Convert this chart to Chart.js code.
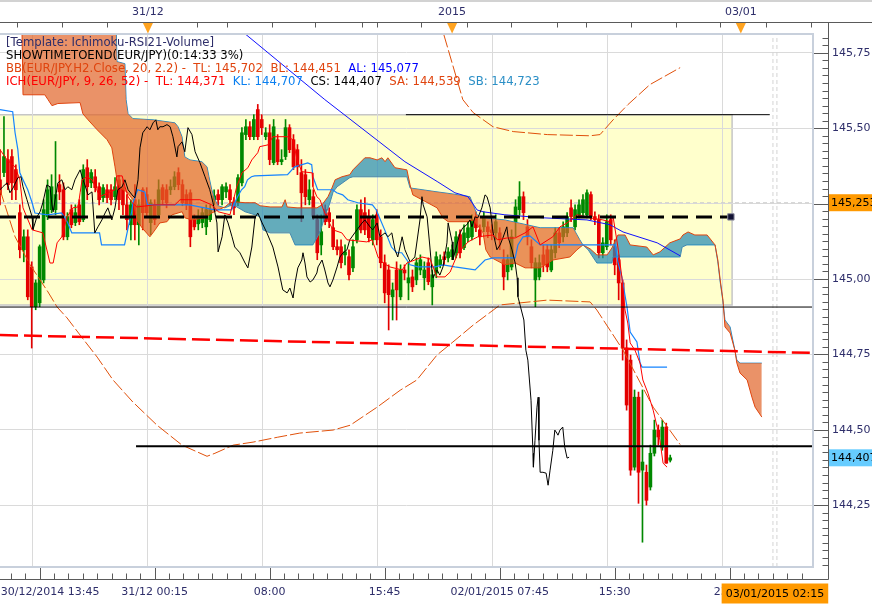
<!DOCTYPE html>
<html><head><meta charset="utf-8">
<script src="https://cdn.jsdelivr.net/npm/chart.js@4.4.1/dist/chart.umd.min.js"></script>
<style>html,body{margin:0;padding:0;background:#fff}canvas{display:block}</style>
</head><body>
<canvas id="c" width="872" height="604"></canvas>
<script>
// ---------- DATA ----------
const FIRST_BAR = -10;
const opens = [
145.329,145.353,145.396,145.406,145.363,145.220,145.097,145.140,145.040,144.908,
144.921,144.997,145.207,145.230,145.230,145.313,145.296,145.140,145.230,145.187,
145.246,145.197,145.369,145.319,145.339,145.306,145.270,145.296,145.296,145.273,
145.329,145.306,145.246,145.180,145.263,145.180,145.296,145.280,145.187,145.246,
145.213,145.303,145.296,145.296,145.306,145.353,145.313,145.280,145.286,145.197,
145.183,145.187,145.173,145.197,145.263,145.280,145.263,145.289,145.296,145.253,
145.253,145.319,145.479,145.505,145.472,145.562,145.529,145.472,145.485,145.386,
145.462,145.389,145.406,145.502,145.462,145.429,145.353,145.346,145.263,145.273,
145.197,145.113,145.230,145.220,145.170,145.107,145.107,145.080,145.074,145.037,
145.130,145.230,145.220,145.207,145.130,145.213,145.140,145.054,145.030,144.941,
145.030,144.941,145.030,144.987,145.007,144.997,145.030,145.004,145.054,144.974,
145.020,145.047,145.074,145.070,145.074,145.087,145.147,145.104,145.137,145.140,
145.207,145.163,145.173,145.173,145.163,145.153,145.153,145.064,145.024,145.040,
145.190,145.230,145.273,145.173,145.107,144.997,145.007,145.080,145.097,145.030,
145.087,145.153,145.140,145.153,145.236,145.173,145.213,145.220,145.213,145.280,
145.207,145.197,145.087,145.107,145.197,145.107,145.064,144.987,144.771,144.731,
144.376,144.608,144.366,144.359,144.310,144.422,144.499,144.442,144.509,144.399];
const highs = [
145.429,145.539,145.429,145.429,145.379,145.246,145.163,145.163,145.057,144.997,
145.113,145.263,145.329,145.346,145.456,145.346,145.319,145.220,145.246,145.246,
145.263,145.379,145.396,145.363,145.363,145.319,145.313,145.313,145.313,145.336,
145.343,145.329,145.280,145.263,145.313,145.263,145.303,145.303,145.263,145.263,
145.329,145.313,145.313,145.329,145.356,145.369,145.329,145.296,145.296,145.213,
145.230,145.236,145.246,145.246,145.296,145.296,145.313,145.319,145.313,145.270,
145.346,145.502,145.529,145.522,145.545,145.579,145.545,145.502,145.512,145.529,
145.479,145.429,145.529,145.512,145.479,145.446,145.396,145.363,145.329,145.296,
145.213,145.213,145.246,145.236,145.197,145.130,145.130,145.113,145.097,145.130,
145.246,145.263,145.270,145.230,145.213,145.230,145.163,145.080,145.047,144.987,
145.057,145.047,145.047,145.057,145.030,145.070,145.080,145.057,145.070,145.030,
145.090,145.080,145.090,145.104,145.113,145.157,145.163,145.180,145.190,145.213,
145.223,145.180,145.223,145.190,145.180,145.213,145.170,145.097,145.080,145.163,
145.263,145.323,145.289,145.197,145.130,145.070,145.080,145.113,145.113,145.113,
145.170,145.170,145.190,145.220,145.263,145.246,145.263,145.280,145.296,145.289,
145.223,145.213,145.137,145.213,145.213,145.130,145.080,144.997,144.798,144.748,
144.632,144.625,144.632,144.383,144.449,144.532,144.516,144.532,144.522,144.416];
const lows = [
145.246,145.339,145.296,145.263,145.263,145.070,145.057,144.931,144.771,144.898,
144.908,144.987,145.197,145.220,145.213,145.263,145.130,145.130,145.170,145.177,
145.180,145.190,145.263,145.303,145.289,145.246,145.256,145.253,145.246,145.263,
145.230,145.213,145.163,145.130,145.130,145.113,145.163,145.203,145.147,145.180,
145.203,145.246,145.236,145.280,145.296,145.296,145.243,145.230,145.107,145.163,
145.163,145.170,145.147,145.190,145.246,145.246,145.246,145.270,145.246,145.213,
145.243,145.309,145.462,145.462,145.462,145.462,145.479,145.462,145.379,145.379,
145.379,145.379,145.396,145.419,145.363,145.346,145.190,145.246,145.246,145.197,
145.064,145.080,145.180,145.170,145.097,145.080,145.037,145.047,144.997,145.024,
145.120,145.153,145.147,145.123,145.113,145.113,145.037,144.921,144.831,144.864,
144.864,144.931,144.997,144.931,144.958,144.981,145.014,144.964,144.981,144.914,
145.004,145.037,145.047,145.057,145.064,145.070,145.070,145.097,145.123,145.130,
145.157,145.113,145.157,145.137,145.130,145.130,145.097,144.964,144.997,145.030,
145.140,145.213,145.197,145.113,145.037,144.908,144.997,145.024,145.024,145.024,
145.070,145.104,145.123,145.140,145.190,145.163,145.203,145.210,145.203,145.197,
145.180,145.070,145.070,145.097,145.113,145.014,144.931,144.731,144.565,144.349,
144.366,144.256,144.127,144.250,144.300,144.413,144.449,144.432,144.389,144.393];
const closes = [
145.280,145.406,145.313,145.319,145.296,145.097,145.140,144.941,144.908,144.987,
145.107,145.230,145.296,145.306,145.280,145.289,145.140,145.207,145.180,145.220,
145.190,145.363,145.306,145.353,145.303,145.263,145.303,145.270,145.263,145.306,
145.263,145.246,145.197,145.246,145.180,145.246,145.220,145.220,145.253,145.197,
145.296,145.263,145.253,145.306,145.339,145.313,145.253,145.246,145.140,145.173,
145.203,145.220,145.230,145.230,145.276,145.263,145.306,145.306,145.263,145.236,
145.336,145.485,145.505,145.472,145.529,145.472,145.502,145.485,145.396,145.505,
145.389,145.396,145.502,145.429,145.372,145.372,145.286,145.273,145.296,145.207,
145.087,145.157,145.190,145.190,145.107,145.097,145.054,145.090,145.014,145.107,
145.230,145.163,145.163,145.137,145.197,145.130,145.054,144.954,144.948,144.964,
144.964,145.030,145.020,145.004,144.974,145.054,145.064,145.030,144.991,145.014,
145.074,145.064,145.064,145.090,145.097,145.140,145.087,145.153,145.170,145.190,
145.170,145.140,145.207,145.157,145.153,145.190,145.130,145.007,145.064,145.140,
145.239,145.273,145.220,145.140,145.054,145.054,145.054,145.047,145.040,145.097,
145.153,145.120,145.173,145.207,145.207,145.230,145.246,145.263,145.286,145.207,
145.197,145.087,145.120,145.190,145.130,145.047,144.987,144.771,144.582,144.366,
144.608,144.359,144.393,144.266,144.422,144.499,144.476,144.509,144.389,144.407];

// Ichimoku lines: [bar, price]
const tenkan = [[-10,145.429],[-8.2,145.395],[-6.2,145.372],[-5,145.329],[-4.2,145.236],[-1.9,145.163],[0.8,145.153],[2.6,145.053],[3.4,145.053],[4.4,145.120],[5.6,145.140],[6.9,145.206],[8.4,145.236],[9.7,145.239],[10.2,145.286],[10.7,145.329],[11.9,145.339],[13.2,145.329],[14.4,145.296],[15.2,145.273],[17.7,145.289],[19,145.296],[19.5,145.342],[20.8,145.342],[21.5,145.306],[22.3,145.273],[23.3,145.253],[24.5,145.239],[29.1,145.246],[34.1,145.246],[35.4,145.263],[40.4,145.263],[43.4,145.246],[45,145.223],[48,145.213],[48.7,145.253],[49.7,145.306],[51,145.352],[52.5,145.369],[53.5,145.395],[55,145.419],[55.5,145.439],[57.6,145.445],[58.8,145.472],[62.4,145.472],[63.9,145.462],[64.9,145.395],[66.1,145.356],[68.7,145.352],[68.9,145.306],[69.9,145.273],[70.7,145.263],[71.4,145.236],[72.4,145.203],[73.95,145.163],[76.2,145.153],[77.5,145.130],[82.5,145.123],[83.8,145.130],[84.5,145.106],[85.3,145.073],[86.6,145.053],[88.3,145.040],[91.4,145.030],[92.6,145.053],[94.6,145.063],[96.4,145.073],[98.4,145.067],[100.2,145.007],[102.2,145.007],[103.5,145.023],[105.5,145.087],[106.7,145.103],[108,145.123],[110.5,145.140],[114.3,145.146],[115.5,145.130],[117.8,145.136],[119.9,145.136],[122.4,145.153],[124.4,145.173],[126.2,145.113],[129.4,145.140],[131.2,145.173],[133,145.186],[135.5,145.213],[138.8,145.203],[142,145.196],[143.8,145.190],[144.6,145.206],[145.8,145.106],[146.8,145.007],[147.6,144.897],[148.3,144.854],[148.9,144.788],[150.1,144.764],[151.4,144.721],[152.1,144.665],[153.4,144.621],[154.7,144.565],[155.7,144.509],[156.4,144.465],[157.2,144.389],[158.2,144.376]];
const kijun = [[-10,145.562],[-6.8,145.555],[-6.2,145.485],[-5.5,145.429],[-5,145.352],[-4.2,145.329],[-3,145.296],[-1.9,145.253],[-1.2,145.219],[2,145.213],[5.5,145.219],[6.4,145.203],[7.1,145.186],[8.1,145.153],[15.1,145.153],[15.6,145.113],[21.4,145.113],[22.2,145.163],[23.2,145.223],[23.5,145.253],[24.7,145.296],[26.5,145.289],[27.2,145.246],[37.8,145.246],[44.1,145.229],[48.4,145.229],[49.2,145.253],[49.9,145.273],[50.9,145.296],[51.7,145.306],[52.4,145.329],[53.4,145.339],[54.2,145.342],[62.5,145.346],[64.3,145.372],[67.6,145.385],[68.6,145.379],[68.9,145.339],[70.1,145.296],[73.9,145.296],[74.9,145.286],[76.4,145.279],[77.7,145.263],[80.2,145.253],[83.9,145.246],[84.9,145.229],[85.7,145.203],[87,145.163],[88.7,145.106],[90,145.087],[91.3,145.087],[92.6,145.063],[93.4,145.047],[95.4,145.040],[99.7,145.040],[101.7,145.047],[104.7,145.040],[109.8,145.030],[112.3,145.063],[114.3,145.070],[119.9,145.070],[120.6,145.113],[121.9,145.140],[123.6,145.143],[126.2,145.113],[145.1,145.113],[145.8,145.057],[146.8,145.007],[148.1,144.907],[148.9,144.824],[150.6,144.791],[151.4,144.721],[151.9,144.708],[158.2,144.708]];
const chikou = [[-10,145.296],[-9.3,145.306],[-8.2,145.319],[-7.5,145.286],[-6.7,145.302],[-5.5,145.336],[-4.7,145.339],[-4.2,145.306],[-3.2,145.263],[-1.9,145.206],[-1.7,145.163],[-0.7,145.206],[0.1,145.223],[0.8,145.253],[1.8,145.312],[2.6,145.306],[3.1,145.246],[3.4,145.223],[3.9,145.263],[4.6,145.319],[5.6,145.329],[6.4,145.296],[7.1,145.306],[8.1,145.296],[8.9,145.329],[10.2,145.362],[10.9,145.329],[11.4,145.312],[12.2,145.279],[13.2,145.289],[13.9,145.153],[14.7,145.173],[15.7,145.196],[16.5,145.219],[17.2,145.236],[18.2,145.196],[19,145.236],[19.7,145.296],[20.8,145.306],[21.5,145.329],[22.3,145.296],[23.3,145.279],[24,145.269],[24.8,145.329],[25.3,145.435],[26,145.485],[27.1,145.505],[27.8,145.495],[28.6,145.518],[29.3,145.528],[29.8,145.495],[30.3,145.505],[31.1,145.505],[32.1,145.512],[32.9,145.505],[33.6,145.472],[34.6,145.405],[34.9,145.439],[35.9,145.455],[36.6,145.422],[37.4,145.502],[38.4,145.479],[39.2,145.422],[40.4,145.386],[41.7,145.339],[42.9,145.296],[43.7,145.253],[44.7,145.186],[45,145.090],[46,145.140],[46.7,145.213],[47.5,145.186],[48.5,145.140],[49.2,145.106],[50.5,145.087],[51.8,145.053],[52.5,145.037],[53.5,145.106],[54.3,145.203],[55,145.219],[56.1,145.186],[57.3,145.153],[58.8,145.106],[60.1,145.040],[61.3,144.964],[62.4,144.954],[63.1,144.970],[63.9,144.937],[64.4,144.987],[65.1,145.037],[66.1,145.063],[66.4,145.087],[66.9,145.053],[67.4,145.007],[68.2,144.990],[68.9,144.997],[69.9,145.020],[70.2,145.040],[71.2,145.063],[71.9,145.030],[72.7,144.987],[73.2,144.974],[73.95,144.997],[75,145.040],[75.7,145.073],[76.5,145.087],[77.5,145.097],[78.2,145.130],[80,145.163],[81.3,145.186],[82,145.196],[83.3,145.173],[84,145.163],[85.1,145.186],[85.8,145.140],[87.1,145.153],[87.8,145.140],[88.8,145.153],[89.6,145.097],[90.3,145.073],[91.4,145.140],[92.1,145.097],[93.4,145.057],[94.6,145.073],[95.9,145.196],[96.4,145.273],[96.7,145.246],[97.7,145.206],[98.4,145.106],[98.9,145.030],[99.2,145.004],[100.2,145.030],[100.9,145.013],[101.7,145.040],[102.7,145.120],[103,145.186],[104,145.123],[104.2,145.063],[105.2,145.113],[106,145.153],[106.7,145.170],[107.7,145.180],[108.5,145.196],[109,145.173],[109.8,145.206],[110.5,145.203],[111.5,145.236],[112.3,145.279],[112.8,145.273],[113.6,145.236],[114.3,145.156],[115.3,145.097],[116.1,145.113],[116.8,145.136],[117.8,145.173],[118.1,145.140],[119.1,145.097],[119.9,145.053],[120.4,145.004],[120.6,144.941],[122.1,144.864],[122.6,144.764],[123.1,144.731],[123.9,144.598],[124.4,144.422],[124.5,144.376],[124.9,144.465],[125.4,144.575],[125.7,144.608],[125.9,144.465],[126.2,144.359],[126.9,144.359],[127.7,144.356],[128.2,144.316],[128.7,144.366],[129.4,144.432],[129.9,144.499],[130.4,144.489],[130.7,144.482],[131.2,144.499],[131.9,144.509],[132.4,144.442],[133,144.406],[133.5,144.409]];
const senkouA = [[-10,145.86],[-4.5,145.86],[-4.2,145.611],[1.3,145.611],[2.1,145.595],[3.1,145.575],[4.6,145.582],[10.2,145.585],[10.9,145.548],[12.2,145.528],[14.5,145.495],[17,145.462],[18.2,145.435],[19,145.372],[19.5,145.329],[20.3,145.302],[22,145.289],[23.5,145.263],[24.5,145.196],[25.8,145.170],[27.8,145.140],[29.1,145.163],[30.3,145.186],[32.1,145.190],[33.4,145.213],[35.9,145.223],[36.6,145.203],[38.4,145.196],[41.7,145.203],[43.4,145.219],[45,145.229],[46.7,145.239],[48,145.253],[49.2,145.256],[51.8,145.253],[54.3,145.253],[55.6,145.243],[58.1,145.239],[61.1,145.239],[61.9,145.263],[62.4,145.239],[64.9,145.236],[69.9,145.236],[71.2,145.246],[72.7,145.273],[73.7,145.302],[74.5,145.329],[76.2,145.339],[78.2,145.346],[79,145.362],[82,145.402],[83.3,145.402],[85.1,145.395],[86.3,145.402],[87.1,145.389],[87.8,145.402],[89.6,145.369],[92.6,145.362],[93.4,145.312],[94.1,145.279],[96.4,145.263],[100.2,145.236],[101.7,145.203],[103,145.190],[108,145.190],[109.3,145.196],[110.3,145.180],[111.8,145.153],[112.5,145.097],[113.6,145.073],[117.3,145.047],[119.9,145.053],[122.4,145.037],[126.2,145.037],[129.4,145.063],[133.7,145.073],[135.5,145.097],[137,145.113],[138.8,145.100],[140.5,145.080],[143.1,145.080],[144.3,145.103],[145.8,145.146],[147.6,145.146],[148.9,145.113],[153.1,145.106],[154.7,145.080],[156.4,145.090],[158.9,145.120],[161.5,145.133],[162.2,145.146],[163.5,145.156],[165.2,145.146],[168.3,145.146],[170.3,145.113],[171,145.063],[171.6,144.997],[172.3,144.930],[172.8,144.841],[174.1,144.821],[175.3,144.764],[175.8,144.721],[176.6,144.688],[178.4,144.665],[179.6,144.608],[180.4,144.575],[182.1,144.542]];
const senkouB = [[-10,145.90],[19.2,145.90],[19.5,145.721],[21.5,145.714],[21.8,145.595],[22.3,145.548],[23.5,145.532],[28.6,145.528],[34.1,145.518],[34.9,145.505],[35.9,145.472],[36.6,145.405],[37.9,145.395],[40.9,145.389],[42.2,145.372],[42.7,145.339],[43.4,145.296],[44.2,145.263],[45,145.243],[46.7,145.236],[48,145.243],[49.2,145.243],[51.8,145.223],[54.3,145.213],[55.6,145.206],[56.3,145.163],[58.1,145.153],[63.1,145.153],[64.4,145.113],[68.9,145.113],[70.7,145.156],[71.9,145.206],[73.2,145.253],[74,145.289],[75,145.306],[78.2,145.336],[79,145.339],[92.6,145.339],[93.4,145.302],[100.2,145.289],[104.2,145.282],[108.5,145.273],[109.3,145.246],[110.3,145.213],[111.8,145.203],[117.3,145.196],[126.2,145.170],[134.5,145.170],[136.2,145.130],[137,145.113],[138.3,145.097],[140.5,145.053],[144.3,145.053],[144.6,145.073],[161.5,145.073],[162,145.106],[163.2,145.113],[170.3,145.113],[171,145.057],[171.6,144.990],[172.3,144.924],[172.8,144.864],[174.1,144.841],[175.3,144.764],[175.8,144.731],[176.6,144.721],[182.1,144.721]];
// Bollinger (H2) lines
const bbUpper = [[100.9,145.861],[101.9,145.811],[106.7,145.595],[109.3,145.552],[114.3,145.505],[119.4,145.489],[128,145.479],[138.8,145.475],[141.3,145.479],[144.6,145.528],[148.3,145.578],[153.9,145.645],[161.5,145.701]];
const bbMiddle = [[48,145.861],[52,145.811],[71.9,145.595],[92.1,145.389],[100.4,145.322],[104.7,145.286],[108,145.273],[110.3,145.229],[111.8,145.223],[117.3,145.213],[126.9,145.203],[138,145.196],[143.8,145.180],[147.1,145.156],[155.7,145.120],[161.5,145.077]];
const bbLower = [[-10,145.296],[-6.2,145.140],[-2.4,145.047],[2.1,144.957],[4.4,144.907],[6.9,144.871],[10.2,144.814],[14.5,144.741],[18.5,144.665],[23.5,144.592],[29.6,144.515],[35.9,144.449],[42.2,144.412],[44.2,144.422],[48.8,144.449],[53.8,144.459],[59.9,144.475],[65.6,144.489],[74,144.499],[78.3,144.515],[85.1,144.575],[90.9,144.631],[95.1,144.665],[100.2,144.748],[104.2,144.791],[109.3,144.847],[116.1,144.914],[128,144.930],[138.8,144.924],[140.5,144.897],[147.1,144.764],[154.7,144.575],[161.5,144.451]];
// drawing objects
const boxTop = 145.545, boxBottom = 144.914, boxEnd = 174.6;
const resistanceLine = [[92.35,145.545],[184.1,145.545]];
const supportLine = [[-10,144.907],[195,144.907]];
const lowLine = [[24.3,144.445],[195,144.445]];
const pivotLine = [[-10,145.206],[174.3,145.206]];
const redTrend = [[-10,144.814],[195,144.755]];
const nowBars = [184.9, 185.9];
const lastPrice = 145.253, csPrice = 144.407, lastTimeLabel = '03/01/2015 02:15';
// axes
const xMin = -10, xMax = 195, yMin = 144.0448, yMax = 145.8126;
const minorStep = 29 / 8;
const bottomTickBars = [0, 29, 58, 87, 116, 145, 174];
const bottomTickLabels = ['      30/12/2014 13:45', '31/12 00:15', '08:00', '15:45', '02/01/2015 07:45', '15:30', '23:00'];
const topMarkerBars = [27.3, 104.0, 176.8];
const topMarkerLabels = ['31/12', '2015', '03/01'];
const topTickBars = [-5.7, 5.6, 17.0, 27.3, 39.7, 47.2, 58.6, 69.4, 81.3, 85.1, 96.1, 104.0, 107.7, 118.8, 130.4, 137.7, 149.1, 160.4, 171.5, 176.8, 183.1, 194.5];
const legendLines = [
  [['[Template: Ichimoku-RSI21-Volume]', '#2e2e6a']],
  [['SHOWTIMETOEND(EUR/JPY)(0:14:33 3%)', '#000000']],
  [['BB(EUR/JPY.H2.Close, 20, 2.2) -  TL: 145,702  BL: 144,451  ', '#e0440e'], ['AL: 145,077', '#0000ff']],
  [['ICH(EUR/JPY, 9, 26, 52) -  TL: 144,371  ', '#ff0000'], ['KL: 144,707  ', '#0a7ff0'], ['CS: 144,407  ', '#000000'], ['SA: 144,539  ', '#e0440e'], ['SB: 144,723', '#2b8fc6']]
];

// ---------- STYLE ----------
const GREEN = '#008800', RED = '#e40000';
const FONT = "'DejaVu Sans', Verdana, sans-serif";
const AXIS_TXT = '#2e2e6a';
Chart.defaults.font.family = FONT;

const candleColor = c => closes[c.dataIndex] >= opens[c.dataIndex] ? GREEN : RED;
const wickData = opens.map((o, k) => ({x: FIRST_BAR + k, y: [lows[k], highs[k]]}));
const bodyData = opens.map((o, k) => ({x: FIRST_BAR + k, y: [o, closes[k]]}));
const isMajorX = v => bottomTickBars.some(b => Math.abs(b - v) < 1e-6);
const isMajorY = v => Math.round(v * 40) % 10 === 0;

function line(data, color, width, extra) {
  return Object.assign({type: 'line', data, borderColor: color, borderWidth: width, pointRadius: 0,
    tension: 0, fill: false, xAxisID: 'x', yAxisID: 'y'}, extra || {});
}
const datasets = [];
datasets.push({type: 'bar', data: wickData, backgroundColor: candleColor, barThickness: 1, grouped: false, order: 31, xAxisID: 'x', yAxisID: 'y'});
datasets.push({type: 'bar', data: bodyData, backgroundColor: candleColor, barThickness: 3, grouped: false, minBarLength: 1, order: 30, xAxisID: 'x', yAxisID: 'y'});
datasets.push(line([[xMin, lastPrice], [xMax, lastPrice]], '#cdcdcd', 1, {borderDash: [4, 3], order: 40}));
datasets.push(line([[nowBars[0], yMin], [nowBars[0], yMax]], '#d4d4d4', 1, {borderDash: [4, 3], order: 40}));
datasets.push(line([[nowBars[1], yMin], [nowBars[1], yMax]], '#d4d4d4', 1, {borderDash: [4, 3], order: 40}));
const sbIndex = datasets.length;
datasets.push(line(senkouB, '#2a8fcc', 1, {order: 12}));
datasets.push(line(senkouA, '#e0440e', 1, {order: 11, fill: {target: sbIndex, above: 'rgba(40,140,180,0.72)', below: 'rgba(225,100,40,0.70)'}}));
datasets.push(line(bbUpper, '#e0500a', 1, {borderDash: [13, 3], order: 8}));
datasets.push(line(bbLower, '#e0500a', 1, {borderDash: [13, 3], order: 8}));
datasets.push(line(bbMiddle, '#1010ff', 1, {order: 8}));
datasets.push(line(chikou, '#000000', 1, {order: 6}));
datasets.push(line(kijun, '#1584ff', 1.2, {order: 6}));
datasets.push(line(tenkan, '#ff0000', 1, {order: 5}));
datasets.push(line(supportLine, '#000000', 1, {order: 3}));
datasets.push(line(lowLine, '#000000', 2, {order: 3}));
datasets.push(line(resistanceLine, '#000000', 1, {order: 3}));
datasets.push(line(redTrend, '#ff0000', 2.5, {borderDash: [18, 6], order: 2}));
datasets.push(line(pivotLine, '#000000', 3, {borderDash: [16, 8], order: 1}));
datasets.push({type: 'scatter', data: [pivotLine[1]], pointStyle: 'rect', pointRadius: 4.5, backgroundColor: '#111133', borderColor: '#9090a0', borderWidth: 1, order: 0, xAxisID: 'x', yAxisID: 'y'});

// ---------- PLUGINS ----------
const backdrop = {
  id: 'backdrop',
  beforeDraw(chart) {
    const {ctx, scales: {x, y}} = chart;
    const l = x.getPixelForValue(xMin), r = x.getPixelForValue(boxEnd);
    const t = y.getPixelForValue(boxTop), b = y.getPixelForValue(boxBottom);
    ctx.save();
    ctx.fillStyle = '#ffffcc';
    ctx.fillRect(l, t, r - l, b - t);
    ctx.strokeStyle = '#c6c6c6'; ctx.lineWidth = 1.5;
    ctx.beginPath(); ctx.moveTo(l, t); ctx.lineTo(r, t); ctx.lineTo(r, b); ctx.lineTo(l, b); ctx.stroke();
    ctx.restore();
  }
};
const decor = {
  id: 'decor',
  afterDraw(chart) {
    const {ctx, chartArea: a, scales: {x, y, xTop}} = chart;
    const W = chart.width;
    ctx.save();
    ctx.fillStyle = '#d2d2d2'; ctx.fillRect(0, 0, W, 2);
    ctx.strokeStyle = '#c8d0dc'; ctx.lineWidth = 2;
    ctx.beginPath(); ctx.moveTo(0, a.top); ctx.lineTo(a.right, a.top); ctx.lineTo(a.right, a.bottom); ctx.lineTo(0, a.bottom); ctx.stroke();
    const axR = a.right + 15.5, axB = a.bottom + 12.5, axT = 22.5;
    ctx.strokeStyle = '#5a5a5a'; ctx.lineWidth = 1;
    ctx.beginPath();
    ctx.moveTo(0, axT); ctx.lineTo(W, axT);
    ctx.moveTo(axR, axT); ctx.lineTo(axR, axB);
    ctx.moveTo(0, axB); ctx.lineTo(axR, axB);
    y.ticks.forEach(t => {
      const py = Math.round(y.getPixelForValue(t.value)) + 0.5;
      ctx.moveTo(isMajorY(t.value) ? a.right + 1 : axR - 6, py); ctx.lineTo(axR, py);
    });
    x.ticks.forEach(t => {
      const px = Math.round(x.getPixelForValue(t.value)) + 0.5;
      ctx.moveTo(px, isMajorX(t.value) ? a.bottom + 1 : axB - 6); ctx.lineTo(px, axB);
    });
    topTickBars.forEach(v => {
      const px = Math.round(xTop.getPixelForValue(v)) + 0.5;
      ctx.moveTo(px, axT); ctx.lineTo(px, axT + 5);
    });
    ctx.stroke();
    ctx.fillStyle = '#ffa320';
    topMarkerBars.forEach(v => {
      const px = xTop.getPixelForValue(v);
      ctx.beginPath(); ctx.moveTo(px - 5, axT + 0.5); ctx.lineTo(px + 5, axT + 0.5); ctx.lineTo(px, axT + 11); ctx.closePath(); ctx.fill();
    });
    ctx.font = '11px ' + FONT; ctx.textBaseline = 'middle'; ctx.textAlign = 'left';
    const box = (val, color) => {
      const py = y.getPixelForValue(val);
      ctx.fillStyle = color; ctx.fillRect(axR + 0.5, py - 8.5, W - axR, 17);
      ctx.fillStyle = '#000'; ctx.fillText(val.toFixed(3).replace('.', ','), axR + 2.5, py + 0.5);
    };
    box(lastPrice, '#ff9900');
    box(csPrice, '#66ccff');
    const cx = x.getPixelForValue((nowBars[0] + nowBars[1]) / 2);
    const tw = ctx.measureText(lastTimeLabel).width;
    ctx.fillStyle = '#ff9900'; ctx.fillRect(cx - tw / 2 - 4, axB + 4, tw + 8, 20);
    ctx.fillStyle = '#000'; ctx.fillText(lastTimeLabel, cx - tw / 2, axB + 14.5);
    ctx.font = '11.7px ' + FONT;
    const rows = [43, 56, 69, 81.5];
    legendLines.forEach((segs, r) => {
      let px = 6;
      segs.forEach(([txt, col]) => { ctx.fillStyle = col; ctx.fillText(txt, px, rows[r]); px += ctx.measureText(txt).width; });
    });
    ctx.restore();
  }
};

new Chart(document.getElementById('c'), {
  type: 'line',
  data: {datasets},
  options: {
    responsive: false, animation: false, devicePixelRatio: 1,
    layout: {padding: 0, autoPadding: false},
    plugins: {legend: {display: false}, tooltip: {enabled: false}},
    scales: {
      x: {
        type: 'linear', position: 'bottom', min: xMin, max: xMax, offset: false,
        afterBuildTicks(s) { const t = []; for (let k = Math.ceil(xMin / minorStep); k * minorStep <= xMax; k++) t.push({value: k * minorStep}); s.ticks = t; },
        ticks: {autoSkip: false, maxRotation: 0, padding: 19, color: AXIS_TXT, font: {size: 11},
          callback(v) { const i = bottomTickBars.findIndex(b => Math.abs(b - v) < 1e-6); return i >= 0 ? bottomTickLabels[i] : ''; }},
        grid: {drawTicks: false, color: c => (c.tick && isMajorX(c.tick.value)) ? '#dadada' : 'rgba(0,0,0,0)'},
        border: {display: false},
        afterFit(s) { s.height = 37; s.paddingLeft = 0; s.paddingRight = 0; }
      },
      xTop: {
        type: 'linear', position: 'top', min: xMin, max: xMax, offset: false,
        afterBuildTicks(s) { s.ticks = topMarkerBars.map(v => ({value: v})); },
        ticks: {autoSkip: false, maxRotation: 0, padding: 15, color: AXIS_TXT, font: {size: 11},
          callback: (v, i) => topMarkerLabels[i]},
        grid: {display: false, drawTicks: false},
        border: {display: false},
        afterFit(s) { s.height = 34; s.paddingLeft = 0; s.paddingRight = 0; }
      },
      y: {
        type: 'linear', position: 'right', min: yMin, max: yMax,
        afterBuildTicks(s) { const t = []; for (let k = Math.ceil(yMin * 40); k <= Math.floor(yMax * 40); k++) t.push({value: k / 40}); s.ticks = t; },
        ticks: {autoSkip: false, padding: 19, color: AXIS_TXT, font: {size: 11},
          callback(v) { const k = Math.round(v * 40); return k % 10 === 0 ? (k / 40).toFixed(2).replace('.', ',') : ''; }},
        grid: {drawTicks: false, color: c => (c.tick && isMajorY(c.tick.value)) ? '#dadada' : 'rgba(0,0,0,0)'},
        border: {display: false},
        afterFit(s) { s.width = 59; s.paddingTop = 0; s.paddingBottom = 0; }
      }
    }
  },
  plugins: [backdrop, decor]
});
</script>
</body></html>
